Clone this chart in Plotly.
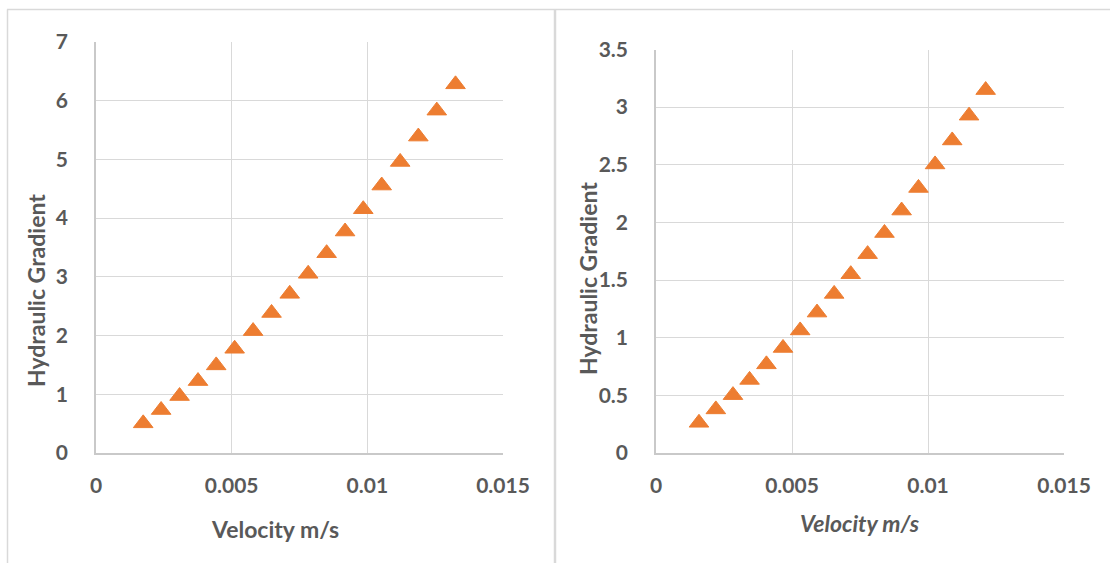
import plotly.graph_objects as go

# Left chart data
vel_left = [0.00174, 0.00240, 0.00308, 0.00376, 0.00443, 0.00511, 0.00579, 0.00647, 0.00714,
            0.00782, 0.00850, 0.00918, 0.00985, 0.01053, 0.01121, 0.01188, 0.01256, 0.01325]
grad_left = [0.505, 0.732, 0.970, 1.225, 1.492, 1.775, 2.076, 2.385, 2.711,
             3.052, 3.403, 3.772, 4.152, 4.555, 4.957, 5.389, 5.831, 6.279]

# Right chart data
vel_right = [0.00158, 0.00220, 0.00283, 0.00344, 0.00406, 0.00467, 0.00530, 0.00592, 0.00655,
             0.00716, 0.00778, 0.00840, 0.00903, 0.00965, 0.01026, 0.01089, 0.01151, 0.01212]
grad_right = [0.262, 0.378, 0.502, 0.634, 0.769, 0.911, 1.063, 1.218, 1.380,
              1.551, 1.725, 1.908, 2.103, 2.299, 2.503, 2.711, 2.926, 3.148]

x_ticks = [0, 0.005, 0.01, 0.015]
x_ticklabels = ["0", "0.005", "0.01", "0.015"]
yl_ticks = [0, 1, 2, 3, 4, 5, 6, 7]
yr_ticks = [0, 0.5, 1, 1.5, 2, 2.5, 3, 3.5]
yr_ticklabels = ["0", "0.5", "1", "1.5", "2", "2.5", "3", "3.5"]

W, H = 1110, 563
ORANGE = "#ED7D31"
TXT = "#595959"
GRID = "#d9d9d9"
AX = "#c9c9c9"
FONT = "Lato"

fig = go.Figure()
marker = dict(symbol="triangle-up", size=17, color=ORANGE, line=dict(color=ORANGE, width=1))
fig.add_trace(go.Scatter(x=vel_left, y=grad_left, mode="markers", marker=marker,
                         xaxis="x", yaxis="y", showlegend=False))
fig.add_trace(go.Scatter(x=vel_right, y=grad_right, mode="markers", marker=marker,
                         xaxis="x2", yaxis="y2", showlegend=False))

def px_x(a, b):
    return [a / W, b / W]

def px_y(top, bottom):
    return [(H - bottom) / H, (H - top) / H]

tickfont = dict(family=FONT, size=21, color=TXT, weight="bold")
common_x = dict(range=[0, 0.015], tickvals=x_ticks, ticktext=x_ticklabels, showgrid=True,
                gridcolor=GRID, gridwidth=1, showline=True, linecolor=AX, linewidth=1.5,
                mirror=False, zeroline=False, ticks="", tickfont=tickfont,
                ticklabelstandoff=13, fixedrange=True, automargin=False)
common_y = dict(showgrid=True, gridcolor=GRID, gridwidth=1, showline=True, linecolor=AX,
                linewidth=1.5, mirror=False, zeroline=False, ticks="", tickfont=tickfont,
                ticklabelstandoff=22, fixedrange=True, automargin=False)

fig.update_layout(
    width=W, height=H,
    margin=dict(l=0, r=0, t=0, b=0, pad=0, autoexpand=False),
    paper_bgcolor="white", plot_bgcolor="white",
    xaxis=dict(domain=px_x(96, 503), anchor="y", **common_x),
    yaxis=dict(domain=px_y(42, 453), anchor="x", range=[0, 7], tickvals=yl_ticks, **common_y),
    xaxis2=dict(domain=px_x(656, 1064), anchor="y2", **common_x),
    yaxis2=dict(domain=px_y(49.5, 453), anchor="x2", range=[0, 3.5], tickvals=yr_ticks,
                ticktext=yr_ticklabels, **common_y),
    font=dict(family=FONT, color=TXT),
)

titlefont = dict(family=FONT, size=23, color=TXT, weight="bold")
ann = [
    dict(text="Velocity m/s", x=274.5 / W, y=(H - 529) / H, font=titlefont),
    dict(text="Hydraulic Gradient", x=36 / W, y=(H - 291) / H, textangle=-90, font=titlefont),
    dict(text="<i>Velocity m/s</i>", x=860 / W, y=(H - 523) / H, font=titlefont),
    dict(text="Hydraulic Gradient", x=588 / W, y=(H - 279) / H, textangle=-90, font=titlefont),
]
for a in ann:
    fig.add_annotation(xref="paper", yref="paper", showarrow=False,
                       xanchor="center", yanchor="middle", **a)

# chart-area borders
border = dict(color="#d9d9d9", width=1.5)
fig.add_shape(type="line", xref="paper", yref="paper", x0=7 / W, x1=1, y0=(H - 9.5) / H,
              y1=(H - 9.5) / H, line=border)
fig.add_shape(type="line", xref="paper", yref="paper", x0=7.5 / W, x1=7.5 / W, y0=0,
              y1=(H - 9.5) / H, line=border)
fig.add_shape(type="line", xref="paper", yref="paper", x0=555 / W, x1=555 / W, y0=0,
              y1=(H - 9.5) / H, line=dict(color="#d9d9d9", width=2.5))

fig.write_html("out.html",
               post_script="document.body.style.margin='0';document.body.style.overflow='hidden';")
